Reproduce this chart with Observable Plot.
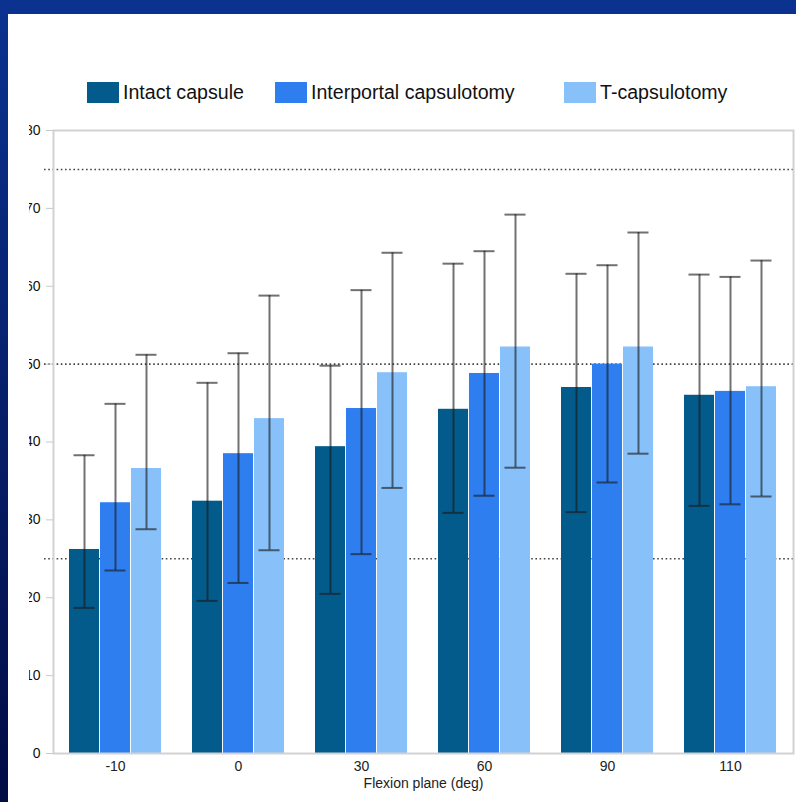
<!DOCTYPE html>
<html>
<head>
<meta charset="utf-8">
<script src="https://cdn.jsdelivr.net/npm/d3@7"></script>
<script src="https://cdn.jsdelivr.net/npm/@observablehq/plot@0.6"></script>
<style>
  html, body { margin: 0; padding: 0; }
  body {
    width: 796px; height: 802px; overflow: hidden; position: relative;
    background: linear-gradient(to bottom, #0b3290, #020c45);
    font-family: "Liberation Sans", Arial, sans-serif;
  }
  #panel { position: absolute; left: 8px; top: 14px; width: 788px; height: 788px; background: #fff; }
  #legend { position: absolute; left: 0; top: 81px; width: 796px; height: 22px; }
  .item { position: absolute; top: 0; display: flex; align-items: center; height: 22px; }
  .sw { width: 32px; height: 21px; margin-right: 4px; }
  .lab { font-size: 19.6px; color: #111; white-space: nowrap; }
  #wrap { position: absolute; left: 29px; top: 120px; width: 767px; height: 682px; overflow: hidden; }
  #wrap svg { position: absolute; left: -29px; top: 0; max-width: none !important; width: 796px !important; height: 680px !important; }
</style>
</head>
<body>
<div id="panel"></div>
<div id="legend"></div>
<div id="wrap"></div>
<script>
// ---- data ----
const angles = ["-10", "0", "30", "60", "90", "110"];
const series = ["Intact capsule", "Interportal capsulotomy", "T-capsulotomy"];
const colors = ["#035b8b", "#2f7ef0", "#88c0fa"];

const intactMean = [26.2, 32.4, 39.4, 44.2, 47.0, 46.0];
const intactHigh = [38.3, 47.6, 49.8, 62.9, 61.6, 61.5];
const intactLow  = [18.7, 19.6, 20.5, 30.9, 31.0, 31.8];

const interMean = [32.2, 38.5, 44.3, 48.8, 50.0, 46.5];
const interHigh = [44.9, 51.4, 59.5, 64.5, 62.7, 61.2];
const interLow  = [23.5, 21.9, 25.6, 33.1, 34.8, 32.0];

const tMean = [36.6, 43.0, 48.9, 52.2, 52.2, 47.1];
const tHigh = [51.2, 58.8, 64.3, 69.2, 66.9, 63.3];
const tLow  = [28.8, 26.1, 34.1, 36.7, 38.5, 33.0];

const yTicks = [0, 10, 20, 30, 40, 50, 60, 70, 80];
const refLines = [25, 50, 75];
const xTitle = "Flexion plane (deg)";

// ---- table ----
const means = [intactMean, interMean, tMean];
const highs = [intactHigh, interHigh, tHigh];
const lows = [intactLow, interLow, tLow];
const rows = [];
angles.forEach((a, i) => {
  series.forEach((s, k) => {
    rows.push({angle: a, series: s, k, mean: means[k][i], hi: highs[k][i], lo: lows[k][i]});
  });
});

// ---- legend ----
const legendLefts = [87, 275, 564];
const legend = document.getElementById("legend");
series.forEach((s, k) => {
  const it = document.createElement("div");
  it.className = "item";
  it.style.left = legendLefts[k] + "px";
  const sw = document.createElement("div");
  sw.className = "sw";
  sw.style.background = colors[k];
  const lab = document.createElement("span");
  lab.className = "lab";
  lab.textContent = s;
  it.appendChild(sw); it.appendChild(lab);
  legend.appendChild(it);
});

// ---- chart ----
const W = 796, H = 680, ML = 53, MR = 3, MT = 10, MB = 47;
const PI = 0.25, PO = 0.11;
const bandW = d3.scaleBand(angles, [ML, W - MR]).paddingInner(PI).paddingOuter(PO).bandwidth();
const third = bandW / 3;
const errStyle = {stroke: "#1a1a1a", strokeOpacity: 0.62, strokeWidth: 2};
const cap = 4.5;

const seriesMarks = series.map((s, k) => {
  const data = rows.filter(r => r.k === k);
  return Plot.barY(data, {x: "angle", y: "mean", fill: "series", insetLeft: k * third, insetRight: (2 - k) * third});
});
const errMarks = series.flatMap((s, k) => {
  const data = rows.filter(r => r.k === k);
  const offset = (k - 1) * third;
  return [
    Plot.ruleX(data, {x: "angle", y1: "lo", y2: "hi", dx: offset, ...errStyle}),
    Plot.tickY(data, {x: "angle", y: "hi", insetLeft: k * third + cap, insetRight: (2 - k) * third + cap, ...errStyle}),
    Plot.tickY(data, {x: "angle", y: "lo", insetLeft: k * third + cap, insetRight: (2 - k) * third + cap, ...errStyle})
  ];
});

const chart = Plot.plot({
  width: W,
  height: H,
  marginLeft: ML,
  marginRight: MR,
  marginTop: MT,
  marginBottom: MB,
  style: {fontFamily: "'Liberation Sans', Arial, sans-serif", fontSize: "14px", color: "#222", background: "transparent", overflow: "visible", maxWidth: "none"},
  x: {domain: angles, paddingInner: PI, paddingOuter: PO},
  y: {domain: [0, 80]},
  color: {domain: series, range: colors},
  marks: [
    Plot.ruleY(refLines, {y: d => d, stroke: "#444", strokeWidth: 1.6, strokeDasharray: "1.6,2.6", insetLeft: -9}),
    ...seriesMarks,
    ...errMarks,
    Plot.frame({stroke: "#d2d2d2", strokeWidth: 2}),
    Plot.axisY({ticks: yTicks, tickSize: 7, tickPadding: 6, stroke: "#c8c8c8", fill: "#111", label: null, fontSize: 14}),
    Plot.axisX({tickSize: 0, tickPadding: 8, fontSize: 14, fill: "#222", label: xTitle, labelAnchor: "center", labelArrow: "none", labelOffset: 34})
  ]
});
document.getElementById("wrap").appendChild(chart);
</script>
</body>
</html>
